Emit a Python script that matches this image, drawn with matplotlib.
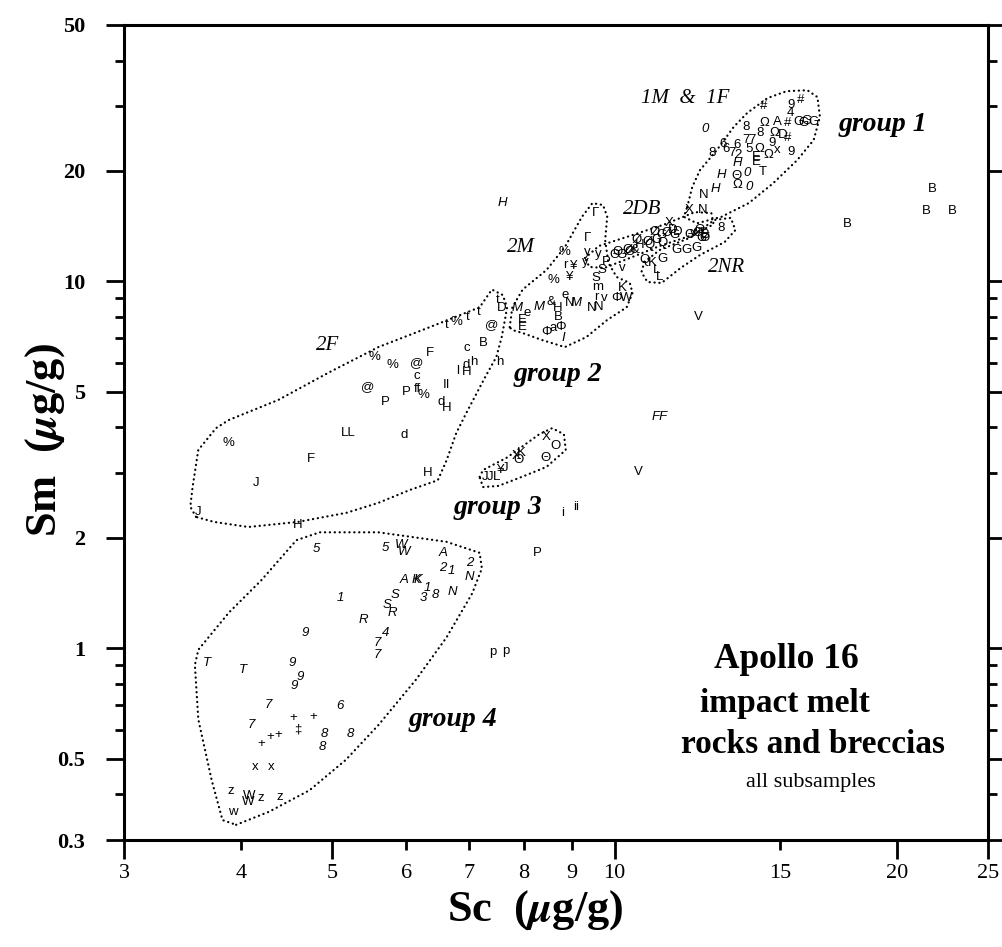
import matplotlib
matplotlib.use("Agg")
import matplotlib.pyplot as plt
from matplotlib.ticker import FixedLocator, FuncFormatter, NullFormatter

plt.rcParams['mathtext.fontset'] = 'stix'

SERIF = ['Liberation Serif', 'DejaVu Serif']
SANS = ['Liberation Sans', 'DejaVu Sans']

# ---- data: Sc (x) and Sm (y), ug/g ----
# group 1 (1M & 1F)
g1_sym = ["#", "9", "#", "4", "Ω", "A", "#", "G", "G", "G", "G", "0", "8", "8", "Ω", "D", "#",
          "6", "8", "6", "7", "6", "7", "7", "2", "5", "Ω", "E", "E", "Ω", "9", "x", "9", "T",
          "H", "H", "Θ", "0", "Ω", "0", "N", "H", "X", "N"]
g1_sc = [14.4, 15.4, 15.8, 15.4, 14.45, 14.9, 15.3, 15.7, 15.9, 16.0, 16.3, 12.5, 13.8, 14.3, 14.8, 15.1, 15.3,
         13.05, 12.7, 13.15, 13.35, 13.5, 13.8, 14.0, 13.55, 13.9, 14.25, 14.15, 14.15, 14.6, 14.7, 14.9, 15.4, 14.4,
         13.5, 13.0, 13.5, 13.85, 13.5, 13.9, 12.45, 12.8, 12.0, 12.4]
g1_sm = [30.0, 30.3, 31.2, 28.8, 27.0, 27.2, 27.0, 27.2, 27.0, 27.4, 27.2, 26.0, 26.4, 25.4, 25.4, 25.1, 24.6,
         23.7, 22.4, 23.0, 22.4, 23.5, 24.3, 24.3, 22.1, 23.0, 23.0, 21.8, 21.2, 22.1, 23.8, 22.8, 22.5, 19.9,
         21.0, 19.5, 19.4, 19.8, 18.3, 18.1, 17.2, 17.9, 15.7, 15.7]
g1_italic = {"0", "H"}

# 2DB and 2NR cluster
g2db_sym = ["Θ", "G", "Ø", "&", "H", "Ø", "Ø", "G", "Ø", "Q", "G", "Ø", "X", "D", "G", "D", "Θ", "v",
            "Ø", "Θ", "G", "Ø", "B", "Θ", "Ø", "Q", "P", "S", "v", "Q", "K", "G", "L", "L", "G", "G",
            "G", "8"]
g2db_sc = [10.0, 10.18, 10.38, 10.5, 10.63, 10.55, 10.84, 11.08, 11.03, 11.24, 11.22, 11.35, 11.44, 11.53,
           11.59, 11.68, 12.03, 12.12, 12.27, 12.33, 12.39, 12.48, 12.48, 10.08, 10.33, 10.9, 9.8, 9.7,
           10.2, 10.76, 10.97, 11.24, 11.08, 11.16, 11.65, 11.94, 12.24, 13.0]
g2db_sm = [11.8, 11.8, 12.0, 12.18, 12.57, 12.96, 12.8, 12.96, 13.6, 12.7, 13.4, 13.55, 14.4, 13.8,
           13.4, 13.6, 13.4, 13.55, 13.55, 13.8, 13.15, 13.15, 13.4, 12.0, 12.18, 12.57, 11.3, 10.74,
           10.88, 11.44, 11.22, 11.5, 10.74, 10.28, 12.18, 12.18, 12.33, 14.0]

# group 2 (2M)
g2_sym = ["Γ", "Γ", "%", "y", "y", "r", "¥", "y", "%", "¥", "S", "m", "K", "r", "v", "Φ", "W", "N",
          "N", "M", "N", "e", "M", "e", "M", "&", "H", "B", "E", "E", "Φ", "a", "Φ", "I", "D", "t"]
g2_sc = [9.55, 9.35, 8.85, 9.35, 9.6, 8.85, 9.05, 9.3, 8.6, 8.95, 9.55, 9.6, 10.2, 9.57, 9.75, 10.05,
         10.28, 9.45, 9.62, 9.1, 8.95, 8.85, 7.88, 8.06, 8.3, 8.55, 8.7, 8.7, 7.98, 7.98, 8.46, 8.6,
         8.75, 8.82, 7.58, 7.5]
g2_sm = [15.4, 13.15, 12.0, 12.0, 11.9, 11.08, 11.0, 11.3, 10.1, 10.28, 10.2, 9.65, 9.6, 9.07, 9.0,
         9.0, 9.0, 8.46, 8.5, 8.73, 8.73, 9.18, 8.46, 8.2, 8.5, 8.8, 8.46, 8.0, 7.85, 7.5, 7.28, 7.48,
         7.5, 7.0, 8.46, 8.9]
g2_italic = {"M", "I"}

# 2F
g2f_sym = ["t", "%", "t", "t", "@", "F", "c", "B", "@", "c", "l", "d", "h", "h", "H", "%", "%", "@",
           "P", "ff", "%", "P", "II", "d", "H", "LL", "d", "%", "F", "J", "H", "J", "H"]
g2f_sc = [6.63, 6.78, 6.97, 7.17, 7.4, 6.35, 6.95, 7.25, 6.15, 6.15, 6.8, 6.95, 7.08, 7.55, 6.95,
          5.55, 5.8, 5.45, 6.0, 6.17, 6.25, 5.7, 6.62, 6.53, 6.63, 5.2, 5.96, 3.88, 4.75, 4.15, 6.32,
          3.6, 4.59]
g2f_sm = [7.6, 7.75, 8.0, 8.25, 7.6, 6.38, 6.58, 6.79, 6.0, 5.52, 5.7, 5.92, 6.02, 6.02, 5.66,
          6.22, 5.92, 5.15, 5.0, 5.1, 4.9, 4.69, 5.22, 4.69, 4.52, 3.86, 3.81, 3.63, 3.28, 2.82, 3.0,
          2.35, 2.17]

# group 3
g3_sym = ["J", "J", "L", "¥", "J", "X", "K", "Θ", "Θ", "X", "O"]
g3_sc = [7.27, 7.37, 7.48, 7.56, 7.64, 7.85, 7.96, 7.9, 8.45, 8.46, 8.66]
g3_sm = [2.93, 2.93, 2.92, 3.06, 3.09, 3.34, 3.4, 3.25, 3.31, 3.77, 3.56]

# group 4 (italic symbols)
g4_sym = ["5", "5", "W", "W", "A", "2", "1", "2", "N", "A", "K", "K", "S", "S", "R", "1", "3", "8",
          "N", "1", "R", "4", "9", "7", "7", "T", "T", "9", "9", "9", "7", "6", "7", "8", "8", "8"]
g4_sc = [4.81, 5.7, 5.92, 5.96, 6.56, 6.56, 6.7, 7.0, 7.0, 5.96, 6.14, 6.17, 5.83, 5.72, 5.8, 6.32,
         6.25, 6.44, 6.72, 5.1, 5.4, 5.7, 4.68, 5.58, 5.58, 3.68, 4.02, 4.53, 4.62, 4.56, 4.27, 5.1,
         4.1, 4.9, 4.88, 5.23]
g4_sm = [1.86, 1.87, 1.91, 1.83, 1.82, 1.65, 1.62, 1.71, 1.56, 1.53, 1.53, 1.53, 1.40, 1.31, 1.25,
         1.46, 1.37, 1.40, 1.42, 1.37, 1.19, 1.10, 1.10, 1.03, 0.96, 0.91, 0.87, 0.91, 0.835, 0.79,
         0.70, 0.695, 0.617, 0.585, 0.538, 0.585]
# group 4 (upright symbols)
g4b_sym = ["+", "+", "‡", "+", "+", "+", "x", "x", "z", "W", "W", "z", "z", "w"]
g4b_sc = [4.54, 4.77, 4.59, 4.2, 4.3, 4.38, 4.14, 4.3, 3.9, 4.08, 4.07, 4.2, 4.4, 3.92]
g4b_sm = [0.645, 0.648, 0.60, 0.548, 0.573, 0.58, 0.474, 0.474, 0.408, 0.395, 0.38, 0.39, 0.394, 0.358]

# ungrouped samples
misc_sym = ["H", "V", "B", "B", "B", "B", "FF", "V", "i", "ii", "P", "p", "p"]
misc_sc = [7.6, 12.27, 17.7, 21.8, 21.5, 22.9, 11.17, 10.6, 8.8, 9.1, 8.27, 7.42, 7.66]
misc_sm = [16.35, 8.0, 14.3, 17.9, 15.55, 15.55, 4.27, 3.02, 2.34, 2.43, 1.82, 0.977, 0.98]
misc_italic = {"H", "FF"}

# group outlines (Sc, Sm)
out1_sc = [11.95, 12.1, 12.33, 12.85, 13.4, 13.85, 14.55, 15.25, 16.05, 16.45, 16.55, 16.3, 15.65,
           14.75, 13.9, 13.0, 12.24, 11.85]
out1_sm = [15.95, 18.1, 20.1, 22.8, 26.4, 28.8, 31.6, 33.0, 33.2, 31.8, 28.1, 24.3, 21.4, 18.5,
           16.35, 15.0, 14.4, 15.0]
out2db_sc = [9.3, 9.62, 10.38, 11.3, 12.18, 12.68, 12.75, 12.03, 11.17, 10.38, 9.75, 9.4]
out2db_sm = [11.58, 12.49, 13.3, 14.3, 15.45, 15.35, 14.3, 13.3, 12.49, 11.58, 10.88, 10.95]
out2nr_sc = [10.76, 11.17, 12.03, 12.77, 13.3, 13.45, 13.1, 12.33, 11.76, 11.22, 10.84, 10.68]
out2nr_sm = [11.3, 12.18, 13.15, 14.7, 14.9, 13.8, 12.8, 11.8, 10.88, 9.9, 9.96, 10.6]
out2m_sc = [7.73, 7.78, 7.98, 8.46, 8.85, 9.23, 9.47, 9.72, 9.82, 9.77, 9.85, 10.05, 10.38, 10.45,
            10.3, 9.82, 9.33, 8.85, 8.37, 7.98, 7.78]
out2m_sm = [7.5, 8.5, 9.5, 10.74, 12.4, 15.0, 16.35, 16.15, 15.0, 12.96, 11.22, 10.28, 9.9, 9.3,
            8.5, 7.85, 7.05, 6.62, 6.92, 7.23, 7.37]
out2f_sc = [3.58, 3.53, 3.55, 3.6, 3.76, 3.88, 4.38, 4.95, 5.6, 6.35, 7.18, 7.4, 7.6, 7.68, 7.64,
            7.58, 7.48, 7.28, 6.95, 6.78, 6.62, 6.48, 6.05, 5.6, 5.18, 4.6, 4.07, 3.74]
out2f_sm = [2.28, 2.43, 2.75, 3.47, 3.98, 4.19, 4.75, 5.63, 6.62, 7.5, 8.5, 9.5, 9.18, 8.5, 7.85,
            7.05, 6.22, 5.49, 4.38, 3.86, 3.25, 2.87, 2.7, 2.49, 2.34, 2.21, 2.14, 2.21]
out3_sc = [7.18, 7.24, 7.68, 8.31, 8.58, 8.83, 8.87, 8.46, 7.96, 7.52, 7.24]
out3_sm = [2.93, 3.06, 3.31, 3.83, 3.98, 3.83, 3.47, 3.12, 2.93, 2.77, 2.75]
out4_sc = [3.95, 4.28, 4.73, 5.17, 5.6, 6.14, 6.62, 7.05, 7.22, 7.18, 6.62, 5.6, 4.85, 4.58, 4.2,
           3.88, 3.6, 3.57, 3.6, 3.72, 3.82]
out4_sm = [0.33, 0.358, 0.41, 0.496, 0.617, 0.82, 1.07, 1.41, 1.65, 1.82, 1.95, 2.07, 2.07, 1.97,
           1.53, 1.25, 0.99, 0.9, 0.64, 0.437, 0.34]

x_major = [3, 5, 10, 20, 25]
x_minor = [4, 6, 7, 8, 9, 15]
y_major = [0.3, 0.5, 1, 2, 5, 10, 20, 50]
y_minor = [0.4, 0.6, 0.7, 0.8, 0.9, 3, 4, 6, 7, 8, 9, 30, 40]

fig = plt.figure(figsize=(10.02, 9.47), dpi=100)
ax = fig.add_axes([124 / 1002, 1 - 840 / 947, 864 / 1002, 815 / 947])
ax.set_xscale('log')
ax.set_yscale('log')
ax.set_xlim(3, 25)
ax.set_ylim(0.3, 50)


def draw_symbols(sc, sm, sym, italic=()):
    for x, y, s in zip(sc, sm, sym):
        ax.text(x, y, s, ha='center', va='center', fontsize=9.5, family=SANS,
                style='italic' if s in italic else 'normal')


draw_symbols(g1_sc, g1_sm, g1_sym, g1_italic)
draw_symbols(g2db_sc, g2db_sm, g2db_sym)
draw_symbols(g2_sc, g2_sm, g2_sym, g2_italic)
draw_symbols(g2f_sc, g2f_sm, g2f_sym)
draw_symbols(g3_sc, g3_sm, g3_sym)
draw_symbols(g4_sc, g4_sm, g4_sym, set(g4_sym))
draw_symbols(g4b_sc, g4b_sm, g4b_sym)
draw_symbols(misc_sc, misc_sm, misc_sym, misc_italic)

# dotted group outlines
for xs, ys in [(out1_sc, out1_sm), (out2db_sc, out2db_sm), (out2nr_sc, out2nr_sm),
               (out2m_sc, out2m_sm), (out2f_sc, out2f_sm), (out3_sc, out3_sm), (out4_sc, out4_sm)]:
    ax.plot(xs + xs[:1], ys + ys[:1], color='black', lw=1.6,
            linestyle=(0, (0.1, 2.1)), dash_capstyle='round')

# subgroup labels
sub = dict(fontsize=15, family=SERIF, style='italic', ha='center', va='center')
ax.text(11.9, 31.6, "1M  &  1F", **sub)
ax.text(10.7, 15.7, "2DB", **sub)
ax.text(7.95, 12.4, "2M", **sub)
ax.text(13.15, 10.88, "2NR", **sub)
ax.text(4.94, 6.7, "2F", **sub)

grp = dict(fontsize=20, family=SERIF, style='italic', weight='bold', ha='center', va='center')
ax.text(19.3, 26.7, "group 1", **grp)
ax.text(8.7, 5.56, "group 2", **grp)
ax.text(7.5, 2.42, "group 3", **grp)
ax.text(6.72, 0.64, "group 4", **grp)

ttl = dict(family=SERIF, weight='bold', ha='center', va='center', transform=ax.transAxes)
ax.text(0.767, 0.222, "Apollo 16", fontsize=25.5, **ttl)
ax.text(0.765, 0.168, "impact melt", fontsize=24, **ttl)
ax.text(0.797, 0.117, "rocks and breccias", fontsize=24, **ttl)
ax.text(0.795, 0.070, "all subsamples", fontsize=16, family=SERIF, ha='center', va='center',
        transform=ax.transAxes)

# axes styling
for sp in ax.spines.values():
    sp.set_linewidth(2.2)

fmt = FuncFormatter(lambda v, p: f"{v:g}")
ax.xaxis.set_major_locator(FixedLocator(x_major))
ax.xaxis.set_minor_locator(FixedLocator(x_minor))
ax.xaxis.set_major_formatter(fmt)
ax.xaxis.set_minor_formatter(fmt)
ax.yaxis.set_major_locator(FixedLocator(y_major))
ax.yaxis.set_minor_locator(FixedLocator(y_minor))
ax.yaxis.set_major_formatter(fmt)
ax.yaxis.set_minor_formatter(NullFormatter())

ax.tick_params(axis='x', which='major', direction='out', length=14, width=2, pad=3)
ax.tick_params(axis='x', which='minor', direction='out', length=7, width=2, pad=10)
ax.tick_params(axis='y', which='major', direction='out', length=13, width=2, pad=15, right=True)
ax.tick_params(axis='y', which='minor', direction='out', length=6.5, width=2, right=True)
for lab in ax.get_xticklabels(which='both'):
    lab.set_fontfamily(SERIF)
    lab.set_fontsize(16)
for lab in ax.get_yticklabels():
    lab.set_fontfamily(SERIF)
    lab.set_fontsize(16)
    lab.set_fontweight('bold')

fig.text(535 / 1002, 1 - 910 / 947, r"Sc  ($\boldsymbol{\mu}$g/g)", fontsize=32, family=SERIF,
         weight='bold', ha='center', va='center')
fig.text(45 / 1002, 1 - 440 / 947, r"Sm  ($\boldsymbol{\mu}$g/g)", fontsize=32, family=SERIF,
         weight='bold', ha='center', va='center', rotation=90)

fig.savefig("out.png", dpi=100)
